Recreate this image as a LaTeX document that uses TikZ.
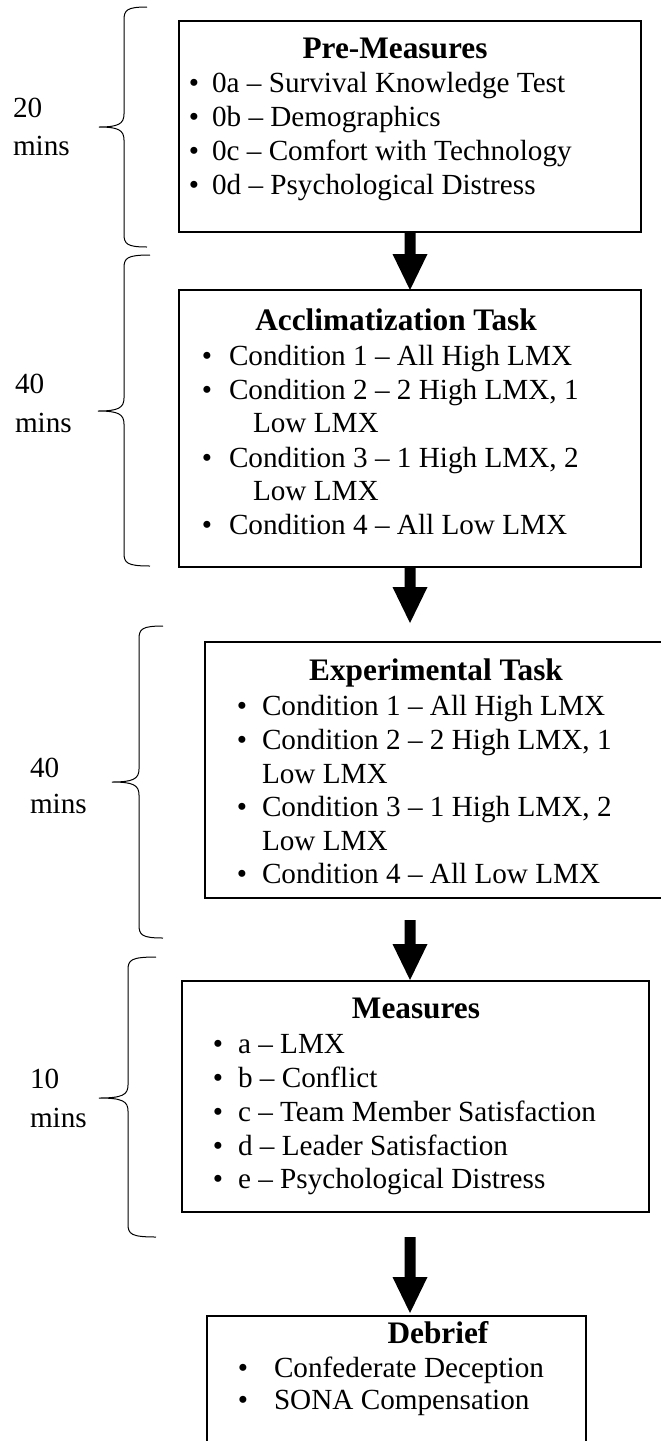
\documentclass[tikz,border=0pt]{standalone}
\usepackage{fontspec}
\setmainfont{Liberation Serif}
\usetikzlibrary{calc}
\tikzset{
  txt/.style={inner sep=0pt,outer sep=0pt,font=\fontsize{29.2}{34}\selectfont},
  ttl/.style={inner sep=0pt,outer sep=0pt,anchor=base,font=\fontsize{31.3}{36}\selectfont\bfseries},
  boxa/.style={draw,line width=2pt,inner sep=0pt,outer sep=0pt,anchor=north west},
  boxb/.style={draw,line width=1.3pt,inner sep=0pt,outer sep=0pt,anchor=north west},
  br/.style={line width=1pt},
  blk/.style={fill=black}
}
\newcommand\itm[5]{%
  \node[txt,anchor=base] (#1d) at (#2,#4) {•};
  \node[txt,anchor=base west] (#1) at (#3,#4) {#5};}
\newcommand\cont[4]{\node[txt,anchor=base west] (#1) at (#2,#3) {#4};}
\newcommand\mybrace[6]{% R V T M B X
  \draw[br] (#1,#3) .. controls (#2+3,#3) and (#2,#3+3) .. (#2,#3+13)
    -- (#2,#4-13) .. controls (#2,#4-3) and (#2-6,#4) .. (#6,#4)
    .. controls (#2-6,#4) and (#2,#4+3) .. (#2,#4+13)
    -- (#2,#5-13) .. controls (#2,#5-3) and (#2+3,#5) .. (#1,#5);}
\newcommand\blockarrow[2]{%
  \fill[blk] ($(#1)+(-5.5,0)$) -- ($(#2)+(-5.5,-36)$) -- ($(#2)+(-17.5,-36)$)
    -- (#2) -- ($(#2)+(17.5,-36)$) -- ($(#2)+(5.5,-36)$) -- ($(#1)+(5.5,0)$) -- cycle;}
\begin{document}
\begin{tikzpicture}[x=1pt,y=-1pt]
\useasboundingbox (0,0) rectangle (661,1441);
\clip (0,0) rectangle (661,1441);
\fill[white] (0,0) rectangle (661,1441);

% boxes
\node[boxa,minimum width=462pt,minimum height=211pt] (b1) at (179,21) {};
\node[boxa,minimum width=462pt,minimum height=277pt] (b2) at (179,290) {};
\node[boxb,minimum width=459pt,minimum height=256pt] (b3) at (205,642) {};
\node[boxb,minimum width=467pt,minimum height=231pt] (b4) at (182,981) {};
\node[boxb,minimum width=379pt,minimum height=150pt] (b5) at (207,1316) {};

% box 1
\node[ttl] (t1) at (395,58) {Pre-Measures};
\itm{p1}{194}{212}{92}{0a – Survival Knowledge Test}
\itm{p2}{194}{212}{126}{0b – Demographics}
\itm{p3}{194}{212}{160}{0c – Comfort with Technology}
\itm{p4}{194}{212}{194}{0d – Psychological Distress}

% box 2
\node[ttl] (t2) at (396,330) {Acclimatization Task};
\itm{q1}{207}{229}{365}{Condition 1 – All High LMX}
\itm{q2}{207}{229}{399}{Condition 2 – 2 High LMX, 1}
\cont{q2c}{253}{432}{Low LMX}
\itm{q3}{207}{229}{467}{Condition 3 – 1 High LMX, 2}
\cont{q3c}{253}{500}{Low LMX}
\itm{q4}{207}{229}{534}{Condition 4 – All Low LMX}

% box 3
\node[ttl] (t3) at (436,680) {Experimental Task};
\itm{r1}{242}{262}{715}{Condition 1 – All High LMX}
\itm{r2}{242}{262}{749}{Condition 2 – 2 High LMX, 1}
\cont{r2c}{262}{783}{Low LMX}
\itm{r3}{242}{262}{816}{Condition 3 – 1 High LMX, 2}
\cont{r3c}{262}{850}{Low LMX}
\itm{r4}{242}{262}{883}{Condition 4 – All Low LMX}

% box 4
\node[ttl] (t4) at (416,1018) {Measures};
\itm{s1}{218}{238}{1053}{a – LMX}
\itm{s2}{218}{238}{1087}{b – Conflict}
\itm{s3}{218}{238}{1121}{c – Team Member Satisfaction}
\itm{s4}{218}{238}{1155}{d – Leader Satisfaction}
\itm{s5}{218}{238}{1188}{e – Psychological Distress}

% box 5
\node[ttl] (t5) at (438,1343) {Debrief};
\itm{u1}{243}{274}{1377}{Confederate Deception}
\itm{u2}{243}{274}{1409}{SONA Compensation}

% braces
\mybrace{147}{124}{7}{127}{247}{99}
\mybrace{150}{124}{255}{411}{566}{98}
\mybrace{163}{139}{626}{782}{938}{112}
\mybrace{156}{128}{957}{1098}{1237}{99}

% time labels
\node[txt,anchor=base west] (m1a) at (13,117) {20};
\node[txt,anchor=base west] (m1b) at (13,155) {mins};
\node[txt,anchor=base west] (m2a) at (15,393) {40};
\node[txt,anchor=base west] (m2b) at (15,432) {mins};
\node[txt,anchor=base west] (m3a) at (30,777) {40};
\node[txt,anchor=base west] (m3b) at (30,813) {mins};
\node[txt,anchor=base west] (m4a) at (30,1088) {10};
\node[txt,anchor=base west] (m4b) at (30,1127) {mins};

% arrows
\coordinate (a2e) at (410,623);
\coordinate (a3s) at (410,920);
\coordinate (a3e) at (410,980);
\coordinate (a4s) at (410,1237);
\coordinate (a4e) at (410,1313);
\blockarrow{b1.south}{b2.north}
\blockarrow{b2.south}{a2e}
\blockarrow{a3s}{a3e}
\blockarrow{a4s}{a4e}
\end{tikzpicture}
\end{document}
